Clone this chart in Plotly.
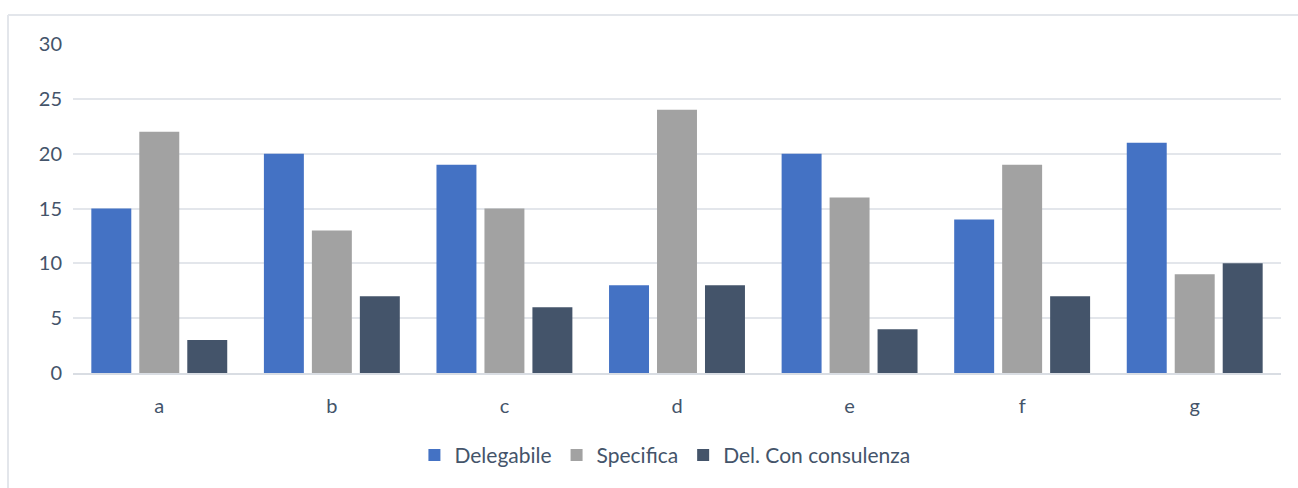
import plotly.graph_objects as go

categories = ["a", "b", "c", "d", "e", "f", "g"]
delegabile = [15, 20, 19, 8, 20, 14, 21]
specifica = [22, 13, 15, 24, 16, 19, 9]
del_consulenza = [3, 7, 6, 8, 4, 7, 10]
y_ticks = [0, 5, 10, 15, 20, 25, 30]

text_color = "#44546A"
font_family = "Lato, 'Open Sans', sans-serif"

fig = go.Figure()
fig.add_trace(go.Bar(name="Delegabile", x=categories, y=delegabile,
                     marker=dict(color="#4472C4", line=dict(width=0))))
fig.add_trace(go.Bar(name="Specifica", x=categories, y=specifica,
                     marker=dict(color="#A2A2A2", line=dict(width=0))))
fig.add_trace(go.Bar(name="Del. Con consulenza", x=categories, y=del_consulenza,
                     marker=dict(color="#44546A", line=dict(width=0))))

fig.update_layout(
    width=1298, height=488,
    margin=dict(l=73, r=17, t=44, b=111),
    paper_bgcolor="white", plot_bgcolor="white",
    barmode="group", bargap=0.166, bargroupgap=0.167,
    font=dict(family=font_family, color=text_color, size=19),
    showlegend=True,
    legend=dict(orientation="h", x=0.49, xanchor="center", y=-0.25, yanchor="middle",
                font=dict(size=21, color=text_color), itemwidth=30,
                traceorder="normal", itemsizing="constant"),
    xaxis=dict(showgrid=False, showline=True, linecolor="#D9DDE3", linewidth=1.5,
               ticks="", tickfont=dict(size=20, color=text_color), ticklabelstandoff=14,
               automargin=False),
    yaxis=dict(range=[0, 30], tickvals=y_ticks, showgrid=True, gridcolor="#E3E6EB",
               gridwidth=1.5, zeroline=False, showline=False, ticks="",
               tickfont=dict(size=20, color=text_color), ticklabelstandoff=10,
               automargin=False),
    shapes=[
        dict(type="line", xref="paper", yref="paper", x0=-0.0538, x1=1.02, y0=1.0879, y1=1.0879,
             line=dict(color="#E3E6EB", width=2)),
        dict(type="line", xref="paper", yref="paper", x0=-0.0538, x1=-0.0538, y0=-0.35, y1=1.0879,
             line=dict(color="#E3E6EB", width=2)),
    ],
)

fig.write_html("out.html")
